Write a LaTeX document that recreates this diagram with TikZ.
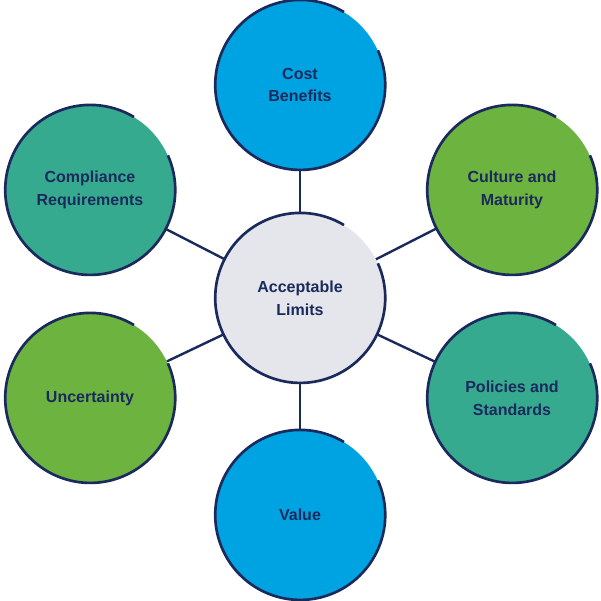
\documentclass[tikz,border=0pt]{standalone}
\usepackage{fontspec}
\setmainfont{Liberation Sans}
\definecolor{navy}{HTML}{1B2A5C}
\definecolor{cblue}{HTML}{00A3E2}
\definecolor{cgreen}{HTML}{6DB33F}
\definecolor{cteal}{HTML}{36AA8F}
\definecolor{cgray}{HTML}{E4E6EB}
\begin{document}
\begin{tikzpicture}[x=0.75pt,y=-0.75pt,
  bub/.style={circle,minimum size=127.5pt,inner sep=0pt,align=center,text=navy,font=\bfseries\fontsize{12}{17}\selectfont},
  link/.style={navy,line width=1.8pt}]
\useasboundingbox (0,0) rectangle (601,601);
\newcommand\bubble[4]{%
  \node[bub,fill=#3] (#1) at #2 {#4};
  \draw[navy,line width=2pt] (#1.24) arc[start angle=24,end angle=-301,radius=85*0.75pt];
}
\bubble{lim}{(300,298)}{cgray}{Acceptable\\Limits}
\bubble{cost}{(300,85)}{cblue}{Cost\\Benefits}
\bubble{cult}{(512,190)}{cgreen}{Culture and\\Maturity}
\bubble{comp}{(90,190)}{cteal}{Compliance\\Requirements}
\bubble{unc}{(90,398)}{cgreen}{Uncertainty}
\bubble{pol}{(512,398)}{cteal}{Policies and\\Standards}
\bubble{val}{(300,515)}{cblue}{Value}
\foreach \n in {cost,cult,comp,unc,pol,val}{\draw[link] (lim) -- (\n);}
\end{tikzpicture}
\end{document}
